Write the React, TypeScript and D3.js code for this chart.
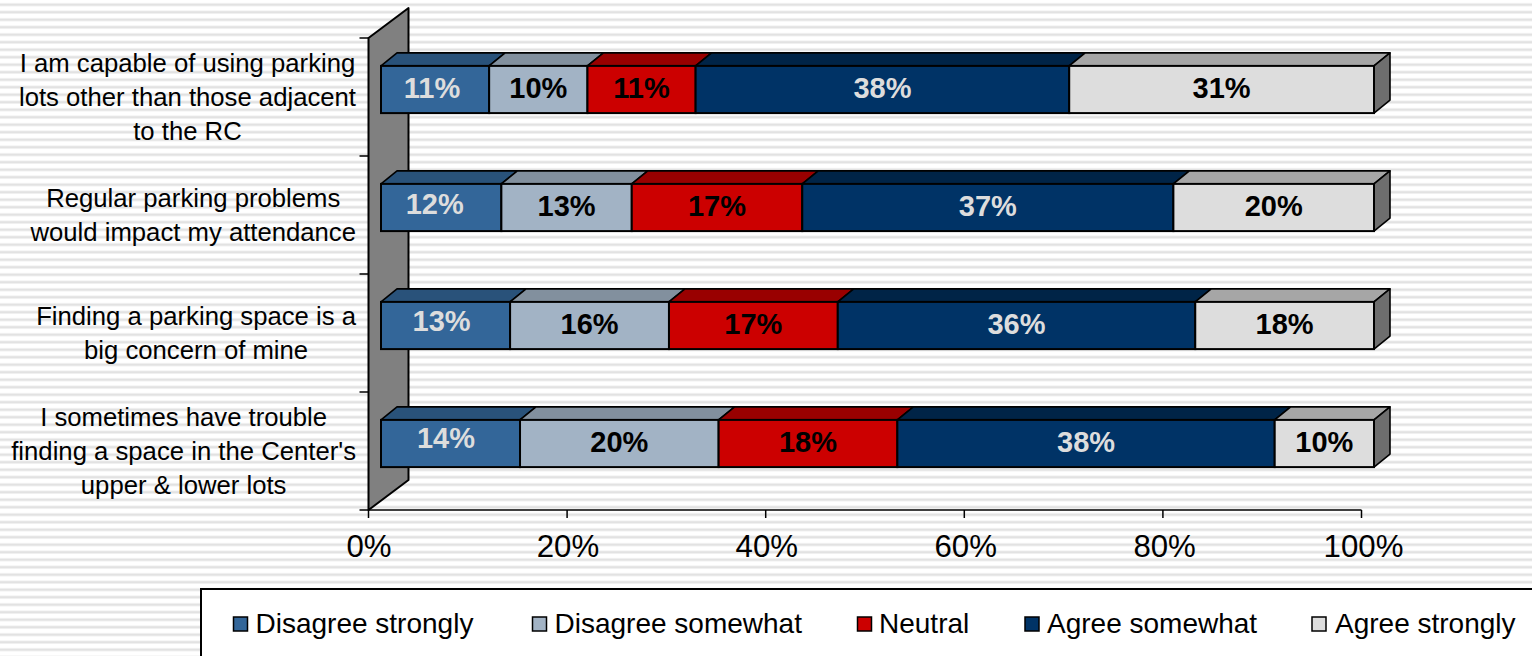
import React from "react";
import * as d3 from "d3";

const categories = [
  ["I am capable of using parking", "lots other than those adjacent", "to the RC"],
  ["Regular parking problems", "would impact my attendance"],
  ["Finding a parking space is a", "big concern of mine"],
  ["I sometimes have trouble", "finding a space in the Center's", "upper & lower lots"],
];
const seriesNames = ["Disagree strongly", "Disagree somewhat", "Neutral", "Agree somewhat", "Agree strongly"];
const disagreeStrongly = [11, 12, 13, 14];
const disagreeSomewhat = [10, 13, 16, 20];
const neutral = [11, 17, 17, 18];
const agreeSomewhat = [38, 37, 36, 38];
const agreeStrongly = [31, 20, 18, 10];
const allSeries = [disagreeStrongly, disagreeSomewhat, neutral, agreeSomewhat, agreeStrongly];
const xTicks = [0, 0.2, 0.4, 0.6, 0.8, 1];

const frontColors = ["#336699", "#A2B3C5", "#CC0000", "#003366", "#DDDDDD"];
const topColors = ["#29527A", "#82909E", "#990000", "#002447", "#A6A6A6"];
const labelColors = ["#DDDDDD", "#000000", "#000000", "#DDDDDD", "#000000"];

// Layout constants
const legendSwatchX = [233.5, 532.5, 857.5, 1025, 1312];
const legendTextX = [255.5, 554.5, 879, 1047, 1335];
const firstLabelNudgeX = [-3, -6.5, -4, -4.5];
const firstLabelNudgeY = [0, 2, 3, 4.5];

const FONT = "'Liberation Sans', Arial, sans-serif";
const W = 1532, H = 656;
const x = d3.scaleLinear().domain([0, 1]).range([368.5, 1361.5]);
const rowIds = categories.map((_, i) => i);
const y = d3.scaleBand<number>().domain(rowIds).range([38, 510]).paddingInner(0.6).paddingOuter(0.3);

// 3-D projection
const wallDX = 40, wallDY = 30;
const frontDX = 12.5, frontDY = -7.5;
const depthDX = 16, depthDY = -13;

const rows = rowIds.map((i) => {
  const o: Record<string, number> = {};
  seriesNames.forEach((s, k) => (o[s] = allSeries[k][i]));
  return o;
});
const stacked = d3.stack<Record<string, number>>().keys(seriesNames).offset(d3.stackOffsetExpand)(rows);

const pts = (p: number[][]) => p.map((q) => q.join(",")).join(" ");

function measure(text: string, size: number) {
  const c = document.createElement("canvas").getContext("2d")!;
  c.font = `${size}px ${FONT}`;
  return c.measureText(text).width;
}

export default function App() {
  const catSize = 25.7;
  const base = y.range()[1];
  const top = y.range()[0];
  return (
    <svg width={W} height={H} viewBox={`0 0 ${W} ${H}`} style={{ position: "fixed", left: 0, top: 0, background: "#fff" }} fontFamily={FONT}>
      <defs>
        <pattern id="stripes" width={8} height={7.5} patternUnits="userSpaceOnUse">
          <rect y={3} width={8} height={3.4} fill="#f0f0f0" />
          <rect y={3.8} width={8} height={1.8} fill="#e2e2e2" />
        </pattern>
      </defs>
      <rect width={W} height={H} fill="url(#stripes)" />

      {/* back wall */}
      <polygon
        points={pts([[x(0), top], [x(0) + wallDX, top - wallDY], [x(0) + wallDX, base - wallDY], [x(0), base]])}
        fill="#808080" stroke="#000" strokeWidth={2} strokeLinejoin="round"
      />

      {/* category axis */}
      {d3.range(rowIds.length + 1).map((i) => {
        const ty = top + (i * (base - top)) / rowIds.length;
        return <line key={i} x1={x(0) - 9} x2={x(0)} y1={ty} y2={ty} stroke="#000" strokeWidth={1.5} />;
      })}
      {/* value axis */}
      <line x1={x(0)} x2={x(1)} y1={base} y2={base} stroke="#000" strokeWidth={1.5} />
      {xTicks.map((t) => (
        <g key={t}>
          <line x1={x(t)} x2={x(t)} y1={base} y2={base + 8} stroke="#000" strokeWidth={1.5} />
          <text x={x(t) + 0.5 + t * 1.5} y={base + 47} textAnchor="middle" fontSize={31.2} fill="#000">{`${Math.round(t * 100)}%`}</text>
        </g>
      ))}

      {/* bars */}
      {rowIds.map((i) => {
        const y0 = (y(i) as number) + frontDY;
        const h = y.bandwidth();
        const off = (v: number) => x(v) + frontDX;
        return (
          <g key={i}>
            {stacked.map((s, k) => {
              const a = off(s[i][0]), b = off(s[i][1]);
              return (
                <polygon key={k}
                  points={pts([[a, y0], [a + depthDX, y0 + depthDY], [b + depthDX, y0 + depthDY], [b, y0]])}
                  fill={topColors[k]} stroke="#000" strokeWidth={1.6} strokeLinejoin="round" />
              );
            })}
            {(() => {
              const e = off(1);
              return (
                <polygon
                  points={pts([[e, y0], [e + depthDX, y0 + depthDY], [e + depthDX, y0 + depthDY + h], [e, y0 + h]])}
                  fill="#6E6E6E" stroke="#000" strokeWidth={1.6} strokeLinejoin="round" />
              );
            })()}
            {stacked.map((s, k) => {
              const a = off(s[i][0]), b = off(s[i][1]);
              return <rect key={k} x={a} y={y0} width={b - a} height={h} fill={frontColors[k]} stroke="#000" strokeWidth={2} />;
            })}
            {stacked.map((s, k) => {
              const a = off(s[i][0]), b = off(s[i][1]);
              const nx = k === 0 ? firstLabelNudgeX[i] : 0;
              const ny = k === 0 ? firstLabelNudgeY[i] : 0;
              return (
                <text key={k} x={(a + b) / 2 + nx} y={y0 + h / 2 + 8.5 - ny} textAnchor="middle" fontSize={29} fontWeight="bold" fill={labelColors[k]}>
                  {`${allSeries[k][i]}%`}
                </text>
              );
            })}
          </g>
        );
      })}

      {/* category labels */}
      {categories.map((lines, i) => {
        const maxW = d3.max(lines, (l) => measure(l, catSize)) as number;
        const cx = 356 - maxW / 2;
        const cy = (y(i) as number) + y.bandwidth() / 2;
        const lh = 33.7;
        return (
          <text key={i} textAnchor="middle" fontSize={catSize} fill="#000">
            {lines.map((l, j) => (
              <tspan key={j} x={cx} y={cy + (j - (lines.length - 1) / 2) * lh + 9}>{l}</tspan>
            ))}
          </text>
        );
      })}

      {/* legend */}
      <rect x={201} y={589} width={W} height={H} fill="#fff" stroke="#000" strokeWidth={2} />
      {seriesNames.map((s, k) => (
        <g key={s}>
          <rect x={legendSwatchX[k]} y={617} width={14} height={14} fill={frontColors[k]} stroke="#000" strokeWidth={1.5} />
          <text x={legendTextX[k]} y={633} fontSize={28} fill="#000">{s}</text>
        </g>
      ))}
    </svg>
  );
}
